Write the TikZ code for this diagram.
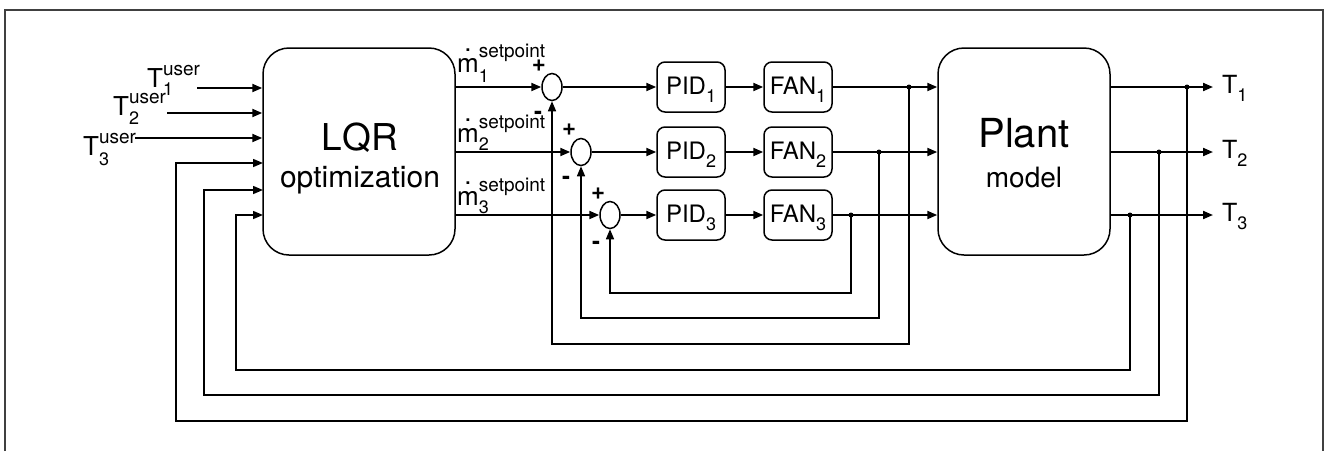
\documentclass[tikz,border=0pt]{standalone}
\usepackage{fontspec}
\setmainfont{TeX Gyre Heros}
\usetikzlibrary{arrows.meta,shapes.geometric}

% font size in pt (1pt = one unit of the picture)
\newcommand\fs[1]{\fontsize{#1}{#1}\selectfont}
% base symbol with super- and subscript: {base}{sup}{sub}{raise}{lower}
\newcommand\supsub[5]{#1\rlap{\raisebox{-#5pt}{\fs{18}#3}}\raisebox{#4pt}{\fs{19}#2}}
% base symbol with subscript only
\newcommand\subonly[2]{#1\raisebox{-8pt}{\fs{18}#2}}
% m with a flow dot set well above it
\newcommand\mflow{\makebox[0pt][l]{\makebox[\fontcharwd\font`m][c]{\raisebox{21pt}{.}}}m}

\begin{document}
\begin{tikzpicture}[x=1pt,y=-1pt,
  tip/.style={-{Triangle[length=10pt,width=8pt]}},
  sig/.style={line width=2pt,tip},
  fb/.style={line width=1.5pt,tip},
  bigbox/.style={draw,line width=1.5pt,rounded corners=26pt,inner sep=0pt},
  smallbox/.style={draw,line width=1.5pt,rounded corners=8pt,minimum width=68pt,
    minimum height=50pt,inner sep=0pt,text height=14pt,text depth=0pt,font=\fs{24}},
  sumnode/.style={draw,ellipse,line width=1.5pt,minimum width=20pt,minimum height=27pt,inner sep=0pt},
  pm/.style={inner sep=0pt,font=\fs{24}\bfseries},
  txt/.style={inner sep=0pt},
  dot/.style={fill,circle,inner sep=0pt,minimum size=5pt}]

\useasboundingbox (0,0) rectangle (1330,451);
% open frame
\draw[line width=1.5pt,black!75] (5,451) -- (5,10) -- (1323,10) -- (1323,451);

% main blocks
\node[bigbox,minimum width=192pt,minimum height=207pt] (lqr) at (359,151.5) {};
\node[txt,anchor=base] (lqrtitle) at (360,150) {\fs{37}LQR};
\node[txt,anchor=base] (lqrsub) at (360,187) {\fs{30}optimization};

\node[bigbox,minimum width=172pt,minimum height=207pt] (plant) at (1024,151.5) {};
\node[txt,anchor=base] (planttitle) at (1024,147) {\fs{40}Plant};
\node[txt,anchor=base] (plantsub) at (1024,187) {\fs{28}model};

% summing junctions with their signs
\node[sumnode] (s1) at (552,87) {};
\node[sumnode] (s2) at (581,152) {};
\node[sumnode] (s3) at (610,215) {};
\node[pm] (p1) at (539,66) {+};
\node[pm] (n1) at (538,115) {-};
\node[pm] (p2) at (569,130) {+};
\node[pm] (n2) at (566,180) {-};
\node[pm] (p3) at (598,194) {+};
\node[pm] (n3) at (596,245) {-};

% controllers and fans
\node[smallbox] (pid1) at (691,87) {\subonly{PID}{1}};
\node[smallbox] (pid2) at (691,152) {\subonly{PID}{2}};
\node[smallbox] (pid3) at (691,215) {\subonly{PID}{3}};
\node[smallbox] (fan1) at (798,87) {\subonly{FAN}{1}};
\node[smallbox] (fan2) at (798,152) {\subonly{FAN}{2}};
\node[smallbox] (fan3) at (798,215) {\subonly{FAN}{3}};

% user set temperatures
\node[txt,anchor=base west] (tu1) at (147,87) {\fs{26}\supsub{T}{user}{1}{12}{8}};
\node[txt,anchor=base west] (tu2) at (113,115) {\fs{26}\supsub{T}{user}{2}{12}{9}};
\node[txt,anchor=base west] (tu3) at (83,155) {\fs{26}\supsub{T}{user}{3}{12}{10}};
\coordinate (u1) at (197,88);
\coordinate (u2) at (167,113);
\coordinate (u3) at (135,138);
\draw[sig] (u1) -- (lqr.west |- u1);
\draw[sig] (u2) -- (lqr.west |- u2);
\draw[sig] (u3) -- (lqr.west |- u3);

% mass flow set points
\node[txt,anchor=base west] (m1) at (457,72) {\fs{26}\supsub{\mflow}{setpoint}{1}{15}{10}};
\node[txt,anchor=base west] (m2) at (457,142) {\fs{26}\supsub{\mflow}{setpoint}{2}{14}{8}};
\node[txt,anchor=base west] (m3) at (457,205) {\fs{26}\supsub{\mflow}{setpoint}{3}{14}{8}};

% forward path
\draw[sig] (lqr.east |- s1) -- (s1);
\draw[sig] (lqr.east |- s2) -- (s2);
\draw[sig] (lqr.east |- s3) -- (s3);
\draw[sig] (s1) -- (pid1);
\draw[sig] (s2) -- (pid2);
\draw[sig] (s3) -- (pid3);
\draw[sig] (pid1) -- (fan1);
\draw[sig] (pid2) -- (fan2);
\draw[sig] (pid3) -- (fan3);
\draw[sig] (fan1) -- (plant.west |- fan1);
\draw[sig] (fan2) -- (plant.west |- fan2);
\draw[sig] (fan3) -- (plant.west |- fan3);

% fan feedback to the summing junctions
\coordinate (b1) at (909,87);
\coordinate (b2) at (879,152);
\coordinate (b3) at (851,215);
\coordinate (j1) at (552,344);
\coordinate (j2) at (581,318);
\coordinate (j3) at (610,293);
\draw[fb] (b1) |- (j1) -- (s1.south);
\draw[fb] (b2) |- (j2) -- (s2.south);
\draw[fb] (b3) |- (j3) -- (s3.south);
\node[dot] (d1) at (b1) {};
\node[dot] (d2) at (b2) {};
\node[dot] (d3) at (b3) {};

% plant outputs
\coordinate (e1) at (1213,87);
\coordinate (e2) at (1213,152);
\coordinate (e3) at (1213,215);
\draw[sig] (plant.east |- e1) -- (e1);
\draw[sig] (plant.east |- e2) -- (e2);
\draw[sig] (plant.east |- e3) -- (e3);
\node[txt,anchor=base west] (y1) at (1222,93) {\fs{25}\subonly{T}{1}};
\node[txt,anchor=base west] (y2) at (1222,158) {\fs{25}\subonly{T}{2}};
\node[txt,anchor=base west] (y3) at (1222,221) {\fs{25}\subonly{T}{3}};

% temperature feedback to the optimizer
\coordinate (o1) at (1187,87);
\coordinate (o2) at (1159,152);
\coordinate (o3) at (1130,215);
\coordinate (k1) at (176,421);
\coordinate (k2) at (204,395);
\coordinate (k3) at (236,370);
\coordinate (in1) at (263,163);
\coordinate (in2) at (263,190);
\coordinate (in3) at (263,215);
\draw[fb] (o1) |- (k1) |- (in1);
\draw[fb] (o2) |- (k2) |- (in2);
\draw[fb] (o3) |- (k3) |- (in3);
\node[dot] (d4) at (o1) {};
\node[dot] (d5) at (o2) {};
\node[dot] (d6) at (o3) {};
\end{tikzpicture}
\end{document}
